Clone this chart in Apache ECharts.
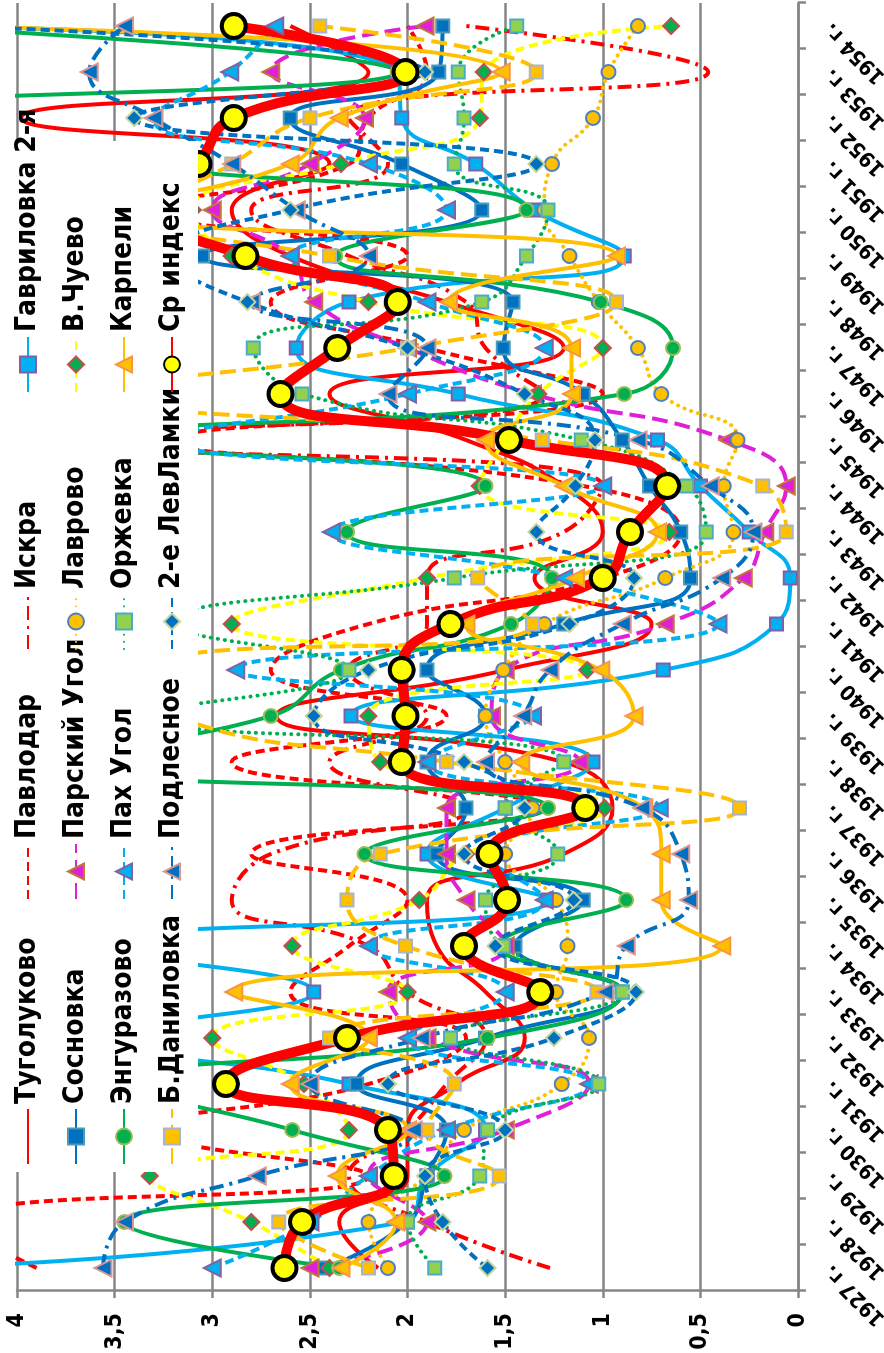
<!DOCTYPE html>
<html><head><meta charset="utf-8">
<script src="https://cdn.jsdelivr.net/npm/echarts/dist/echarts.min.js"></script>
<style>
html,body{margin:0;padding:0;width:884px;height:1353px;overflow:hidden;background:#fff}
#wrap{position:absolute;left:0;top:0;width:1353px;height:884px;transform-origin:0 0;transform:translate(0,1353px) rotate(-90deg);}
</style></head><body><div id="wrap"></div>
<script>
const years = ['1927 г.','1928 г.','1929 г.','1930 г.','1931 г.','1932 г.','1933 г.','1934 г.','1935 г.','1936 г.','1937 г.','1938 г.','1939 г.','1940 г.','1941 г.','1942 г.','1943 г.','1944 г.','1945 г.','1946 г.','1947 г.','1948 г.','1949 г.','1950 г.','1951 г.','1952 г.','1953 г.','1954 г.'];
const valueLabels = ['0','0,5','1','1,5','2','2,5','3','3,5','4'];

const tugolukovo = [2.15,2.35,2.0,2.0,1.75,1.4,1.6,1.85,1.9,1.2,0.95,1.2,2.67,1.5,0.75,1.35,1.0,1.2,1.7,2.4,1.2,1.8,2.6,2.9,2.4,3.98,2.2,2.6];
const pavlodar   = [3.9,4.3,2.2,3.3,2.2,1.7,2.6,2.3,2.0,2.8,1.3,2.9,1.8,2.7,2.2,1.0,0.6,1.1,3.2,1.0,1.9,2.7,2.0,3.3,2.3,2.2,1.9,2.0];
const iskra      = [1.27,1.9,2.3,2.0,1.8,1.6,2.0,2.2,2.9,2.7,1.7,2.4,1.9,2.3,1.9,1.9,1.2,1.0,3.6,1.3,1.6,1.7,2.3,2.8,2.1,2.3,0.46,1.7];
const gavrilovka = [4.6,2.02,1.9,1.6,2.3,3.5,2.48,3.6,1.28,1.9,1.5,1.05,2.29,0.69,0.11,0.04,0.25,0.5,0.72,1.74,2.57,2.30,0.89,1.35,1.65,2.03,2.05,4.5];
const sosnovka   = [2.43,2.0,1.9,1.8,2.26,1.6,0.9,1.45,1.1,1.85,1.7,1.9,1.6,1.9,1.2,0.55,0.6,0.76,0.9,1.1,1.51,1.46,3.05,1.62,2.03,2.6,1.84,1.82];
const parskiy    = [2.5,1.9,2.2,1.5,1.07,1.9,2.1,1.5,1.7,1.80,1.8,1.12,1.57,1.5,0.68,0.28,0.17,0.06,0.36,1.36,2.0,2.48,2.6,3.0,2.5,2.22,2.70,1.91];
const lavrovo    = [2.1,2.2,1.9,1.71,1.21,1.07,1.24,1.18,1.24,1.5,1.36,1.5,1.6,1.51,1.3,0.68,0.33,0.38,0.31,0.70,0.82,1.02,1.17,1.3,1.26,1.05,0.97,0.82];
const vchuevo    = [2.4,2.8,3.32,2.3,2.53,3.0,2.0,2.59,1.94,1.7,0.99,2.14,2.2,1.08,2.9,1.9,0.66,1.63,1.5,1.33,1.00,2.2,2.9,3.1,2.34,1.63,1.61,0.65];
const enguraz    = [2.35,3.45,1.81,2.59,3.4,1.59,0.9,1.53,0.88,2.22,1.28,3.9,2.70,2.34,1.47,1.26,2.31,1.6,3.5,0.89,0.64,1.01,2.37,1.39,3.5,5.2,2.05,4.6];
const pahugol    = [3.0,2.5,2.2,1.8,1.07,2.0,1.5,2.2,1.3,1.6,0.71,1.9,1.36,2.88,0.41,1.2,2.39,1.0,3.2,2.0,1.3,1.9,2.6,1.8,2.2,3.3,2.91,2.68];
const orzhevka   = [1.86,2.0,1.63,1.59,1.02,1.78,0.9,1.51,1.6,1.23,1.5,1.2,3.3,2.3,3.2,1.76,0.47,0.57,1.11,2.54,2.79,1.62,1.39,1.28,1.76,1.71,1.74,1.44];
const karpeli    = [2.34,2.06,2.36,2.0,2.6,2.2,2.89,0.39,0.70,0.70,0.79,1.42,0.84,1.01,1.7,1.14,0.72,1.2,1.6,1.16,1.16,1.79,0.93,3.5,2.6,2.35,1.52,4.4];
const bdanil     = [2.2,2.66,1.53,1.90,1.76,2.4,1.03,2.01,2.31,2.14,0.30,1.80,3.2,3.3,1.36,1.64,0.06,0.18,1.31,3.5,2.0,0.93,2.4,3.3,2.9,2.50,1.34,2.45];
const podlesnoe  = [3.56,3.45,2.77,1.97,2.5,1.93,0.99,0.88,0.56,0.60,0.8,1.6,1.41,1.27,0.9,0.39,0.23,0.45,0.82,2.10,1.9,2.8,2.2,2.57,2.9,3.3,3.63,3.45];
const levlamki   = [1.59,1.82,1.91,1.50,2.10,1.25,0.83,1.55,1.15,1.71,1.4,1.71,2.48,2.20,1.17,0.84,1.34,1.14,1.04,1.40,2.0,2.82,3.2,2.6,1.34,3.40,1.91,4.3];
const srIndex    = [2.63,2.54,2.07,2.10,2.93,2.31,1.32,1.71,1.49,1.58,1.09,2.03,2.01,2.03,1.78,1.00,0.86,0.67,1.48,2.65,2.36,2.05,2.83,3.25,3.07,2.89,2.01,2.89];

const FONT = "'Liberation Sans Narrow','DejaVu Sans Condensed','Liberation Sans',Arial,sans-serif";
const DASH = [9,5], LONG = [16,7], DASHDOT = [14,6,3,6], DOT = [0.1,7];

function mk(name, data, color, dash, symbol, size, fill, border, extra) {
  const s = {
    name, type: 'line', data, smooth: 0.5, clip: true,
    symbol: symbol || 'circle', symbolSize: symbol ? size : 0, showSymbol: !!symbol,
    lineStyle: { color, width: 4, type: dash || 'solid', cap: dash === DOT ? 'round' : 'butt' },
    itemStyle: symbol ? { color: fill, borderColor: border, borderWidth: 2 }
                      : { color: 'rgba(0,0,0,0)', borderColor: 'rgba(0,0,0,0)', borderWidth: 0 },
    emphasis: { disabled: true }
  };
  return Object.assign(s, extra || {});
}

const series = [
  mk('Туголуково', tugolukovo, '#FF0000'),
  mk('Павлодар', pavlodar, '#FF0000', DASH),
  mk('Искра', iskra, '#FF0000', DASHDOT),
  mk('Гавриловка 2-я', gavrilovka, '#00B0F0', null, 'rect', 13, '#00B0F0', '#7F60A8'),
  mk('Сосновка', sosnovka, '#0070C0', null, 'rect', 13, '#0070C0', '#4B9BB8'),
  mk('Парский Угол', parskiy, '#E020D8', LONG, 'triangle', 17, '#E020D8', '#C07838'),
  mk('Лаврово', lavrovo, '#FFC000', DOT, 'circle', 14, '#FFC000', '#4F81BD'),
  mk('В.Чуево', vchuevo, '#FFFF00', DASH, 'diamond', 16, '#00B050', '#C0504D'),
  mk('Энгуразово', enguraz, '#00B050', null, 'circle', 14, '#00B050', '#9BBB59'),
  mk('Пах Угол', pahugol, '#00B0F0', DASH, 'triangle', 17, '#00B0F0', '#8064A2'),
  mk('Оржевка', orzhevka, '#00B050', DOT, 'rect', 13, '#92D050', '#4BACC6'),
  mk('Карпели', karpeli, '#FFC000', null, 'triangle', 17, '#FFC000', '#F79646'),
  mk('Б.Даниловка', bdanil, '#FFC000', LONG, 'rect', 13, '#FFC000', '#A6B4D0'),
  mk('Подлесное', podlesnoe, '#0070C0', DASHDOT, 'triangle', 17, '#0070C0', '#D99694'),
  mk('2-е ЛевЛамки', levlamki, '#0070C0', DASH, 'diamond', 16, '#0070C0', '#C3D69B'),
  mk('Ср индекс', srIndex, '#FF0000', null, 'circle', 24, '#FFFF00', '#000000',
     { lineStyle: { color: '#FF0000', width: 10 }, itemStyle: { color: '#FFFF00', borderColor: '#000', borderWidth: 4 } })
];

const legendCols = [
  ['Туголуково','Сосновка','Энгуразово','Б.Даниловка'],
  ['Павлодар','Парский Угол','Пах Угол','Подлесное'],
  ['Искра','Лаврово','Оржевка','2-е ЛевЛамки'],
  ['Гавриловка 2-я','В.Чуево','Карпели','Ср индекс']
];
const legendLeft = [188, 453, 703, 960];

const chart = echarts.init(document.getElementById('wrap'), null, { width: 1353, height: 884 });
chart.setOption({
  animation: false,
  backgroundColor: '#fff',
  grid: { left: 62, right: 3, top: 17, bottom: 86, containLabel: false, outerBoundsMode: 'none' },
  xAxis: {
    type: 'category', data: years, boundaryGap: true,
    axisLine: { lineStyle: { color: '#868686', width: 2.5 } },
    axisTick: { show: true, length: 8, lineStyle: { color: '#868686', width: 2.5 } },
    axisLabel: { interval: 0, rotate: 45, margin: 30,
      color: '#000', fontSize: 21, fontWeight: 'bold', fontFamily: FONT },
    splitLine: { show: false }
  },
  yAxis: {
    type: 'value', min: 0, max: 4, interval: 0.5,
    axisLine: { show: true, lineStyle: { color: '#868686', width: 2.5 } },
    axisTick: { show: true, length: 7, lineStyle: { color: '#868686', width: 2.5 } },
    axisLabel: { margin: 22, color: '#000', fontSize: 23, fontWeight: 'bold', fontFamily: FONT,
      formatter: v => valueLabels[Math.round(v / 0.5)] },
    splitLine: { show: true, lineStyle: { color: '#868686', width: 2.5 } }
  },
  legend: legendCols.map((col, i) => ({
    orient: 'vertical', left: legendLeft[i], top: 13, padding: 0,
    itemWidth: 55, itemHeight: 20, itemGap: 18, selectedMode: false, z: 60,
    textStyle: { fontSize: 28, fontWeight: 'bold', color: '#000', fontFamily: FONT, lineHeight: 30 },
    data: col
  })),
  graphic: [{ type: 'rect', z: 50, silent: true, shape: { x: 181, y: 7, width: 1031, height: 191 }, style: { fill: '#fff' } }],
  series
});
</script>
</body></html>
